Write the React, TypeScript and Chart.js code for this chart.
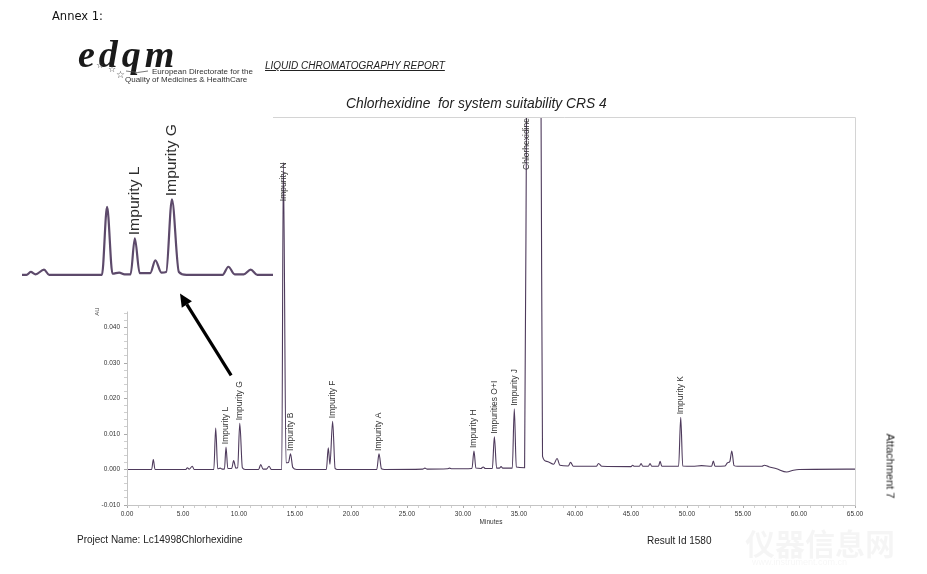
import React, { useEffect, useRef } from 'react';
import { Chart, registerables } from 'chart.js';

Chart.register(...registerables);

// ---- chromatogram trace (retention time in minutes, absorbance in AU) ----
const minutes = [
  0.0, 2.2, 2.35, 2.5, 5.25, 5.39, 5.55, 5.83, 6.0, 7.75, 7.92, 8.1, 8.32, 8.5, 8.7, 8.84, 9.0, 9.35, 9.52, 9.72,
  9.88, 10.07, 10.3, 10.55, 11.75, 11.94, 12.15, 12.45, 12.68, 12.9, 13.82, 13.96, 14.2, 14.42, 14.6, 14.8, 15.15,
  17.8, 17.97, 18.12, 18.36, 18.58, 18.8, 22.3, 22.5, 22.72, 23.0, 26.4, 26.6, 26.8, 28.6, 28.8, 29.0, 30.8, 30.98,
  31.15, 31.6, 31.8, 32.0, 32.62, 32.8, 33.0, 33.25, 33.4, 33.55, 34.4, 34.58, 34.76, 35.5, 35.7, 36.3, 36.97, 37.1,
  37.47, 38.1, 38.4, 38.65, 39.4, 39.6, 39.85, 41.9, 42.1, 42.4, 45.0, 45.15, 45.3, 45.75, 45.9, 46.05, 46.55, 46.7,
  46.85, 47.45, 47.6, 47.75, 49.25, 49.44, 49.62, 50.5, 51.3, 52.2, 52.35, 52.5, 53.4, 53.62, 53.82, 54.0, 54.2, 54.5,
  56.7, 56.9, 57.3, 58.0, 58.9, 59.5, 60.0, 65.0,
];
const absorbance = [
  0.0, 0.0, 0.0028, 0.0, 0.0, 0.0005, 0.0001, 0.0009, 0.0, 0.0, 0.0117, 0.0002, 0.0004, 0.0001, 0.0001, 0.0063, 0.0003,
  0.0003, 0.0025, 0.0004, 0.0005, 0.013, 0.0005, 0.0, 0.0, 0.0014, 0.0001, 0.0001, 0.0009, 0.0, 0.0, 0.0865, 0.0019,
  0.002, 0.0044, 0.0006, 0.0, 0.0, 0.0061, 0.0015, 0.0136, 0.0003, 0.0, 0.0, 0.0044, 0.0002, 0.0, 0.0001, 0.0004,
  0.0001, 0.0002, 0.0004, 0.0002, 0.0003, 0.0052, 0.0004, 0.0003, 0.0007, 0.0003, 0.0003, 0.0092, 0.0004, 0.0004,
  0.0008, 0.0004, 0.0004, 0.0171, 0.0007, 0.0005, 0.12, 0.3, 0.1, 0.0037, 0.0023, 0.0015, 0.0031, 0.0012, 0.001,
  0.002, 0.0009, 0.0009, 0.0017, 0.0009, 0.0008, 0.0012, 0.0009, 0.0009, 0.0017, 0.0009, 0.0009, 0.0017, 0.0009,
  0.0009, 0.0023, 0.0009, 0.0009, 0.0147, 0.001, 0.0009, 0.0011, 0.0009, 0.0024, 0.0009, 0.001, 0.0019, 0.0022,
  0.0052, 0.0011, 0.0009, 0.0009, 0.0012, 0.0008, 0.0002, -0.0007, -0.0002, 0.0, 0.0001,
];

// ---- peak annotations ----
const peakNames = [
  'Impurity L', 'Impurity G', 'Impurity N', 'Impurity B', 'Impurity F', 'Impurity A',
  'Impurity H', 'Impurities O+I', 'Impurity J', 'Chlorhexidine', 'Impurity K',
];
const peakMinutes = [8.84, 10.07, 13.96, 14.6, 18.36, 22.5, 30.98, 32.8, 34.58, 35.7, 49.44];
const insetNames = ['Impurity L', 'Impurity G'];
const insetMinutes = [8.84, 10.07];

// ---- axes ----
const xMajorTicks = [0, 5, 10, 15, 20, 25, 30, 35, 40, 45, 50, 55, 60, 65];
const yMajorTicks = [-0.01, 0, 0.01, 0.02, 0.03, 0.04];
const X_MIN = 0, X_MAX = 65;
const Y_MIN = -0.01, Y_MAX = 0.0993, Y_AXIS_TOP = 0.0445;
const INSET_X = [5.1, 13.42];
const INSET_Y = [-0.0026, 0.0287];

// arrow from the Impurity L/G region to the inset
const arrowFrom = { x: 9.3, y: 0.0265 };
const arrowTo = { x: 4.73, y: 0.0496 };

const FONT = '"Liberation Sans", Arial, Helvetica, sans-serif';
const TRACE = '#4e3a5c';

const points = minutes.map((m, i) => ({ x: m, y: absorbance[i] }));

function apexOf(t: number) {
  const i = minutes.indexOf(t);
  return i >= 0 ? absorbance[i] : 0;
}

function drawPeakLabels(chart: any, names: string[], times: number[], fontPx: number, stretch: number, gap: number, color: string, topMargin: number) {
  const { ctx, chartArea, scales } = chart;
  const x = scales.x, y = scales.y;
  ctx.save();
  ctx.font = `${fontPx}px ${FONT}`;
  ctx.fillStyle = color;
  ctx.textBaseline = 'middle';
  names.forEach((name, i) => {
    const t = times[i];
    const px = x.getPixelForValue(t);
    const apex = y.getPixelForValue(apexOf(t));
    const len = ctx.measureText(name).width * stretch;
    ctx.save();
    if (apex - gap - len >= chartArea.top + topMargin) {
      ctx.translate(px, apex - gap);
      ctx.rotate(-Math.PI / 2);
      ctx.scale(stretch, 1);
      ctx.textAlign = 'left';
    } else {
      ctx.translate(px, Math.max(apex, chartArea.top + 1));
      ctx.rotate(-Math.PI / 2);
      ctx.scale(stretch, 1);
      ctx.textAlign = 'right';
    }
    ctx.fillText(name, 0, 0);
    ctx.restore();
  });
  ctx.restore();
}

const mainOverlay = {
  id: 'mainOverlay',
  afterDraw(chart: any) {
    const { ctx, chartArea, scales } = chart;
    const x = scales.x, y = scales.y;
    ctx.save();
    // frame (top & right), partially hidden behind the inset
    ctx.strokeStyle = '#d4d4d4';
    ctx.lineWidth = 1;
    ctx.beginPath();
    ctx.moveTo(273, Math.round(chartArea.top) + 0.5);
    ctx.lineTo(Math.round(chartArea.right) + 0.5, Math.round(chartArea.top) + 0.5);
    ctx.lineTo(Math.round(chartArea.right) + 0.5, Math.round(chartArea.bottom) + 0.5);
    ctx.stroke();
    // y axis line
    ctx.strokeStyle = '#c4c4c4';
    ctx.beginPath();
    const ax = Math.round(chartArea.left) + 0.5;
    ctx.moveTo(ax, y.getPixelForValue(Y_MIN));
    ctx.lineTo(ax, y.getPixelForValue(Y_AXIS_TOP));
    ctx.stroke();
    // y axis title
    ctx.fillStyle = '#444';
    ctx.font = `6px ${FONT}`;
    ctx.translate(chartArea.left - 30, y.getPixelForValue(Y_AXIS_TOP));
    ctx.rotate(-Math.PI / 2);
    ctx.textAlign = 'center';
    ctx.textBaseline = 'middle';
    ctx.fillText('AU', 0, 0);
    ctx.restore();

    drawPeakLabels(chart, peakNames, peakMinutes, 8.5, 1, 3, '#333', 10);

    // arrow
    const fx = x.getPixelForValue(arrowFrom.x), fy = y.getPixelForValue(arrowFrom.y);
    const tx = x.getPixelForValue(arrowTo.x), ty = y.getPixelForValue(arrowTo.y);
    const ang = Math.atan2(ty - fy, tx - fx);
    const head = 13, hw = 6;
    const bx = tx - head * Math.cos(ang), by = ty - head * Math.sin(ang);
    ctx.save();
    ctx.strokeStyle = '#000';
    ctx.fillStyle = '#000';
    ctx.lineWidth = 3.2;
    ctx.beginPath();
    ctx.moveTo(fx, fy);
    ctx.lineTo(bx, by);
    ctx.stroke();
    ctx.beginPath();
    ctx.moveTo(tx, ty);
    ctx.lineTo(bx + hw * Math.sin(ang), by - hw * Math.cos(ang));
    ctx.lineTo(bx - hw * Math.sin(ang), by + hw * Math.cos(ang));
    ctx.closePath();
    ctx.fill();
    ctx.restore();
  },
};

const insetOverlay = {
  id: 'insetOverlay',
  afterDraw(chart: any) {
    drawPeakLabels(chart, insetNames, insetMinutes, 14, 1.12, 3, '#2e2e2e', 0);
  },
};

const isMajor = (v: number, step: number) => Math.abs(v / step - Math.round(v / step)) < 1e-6;

export default function App() {
  const mainRef = useRef<HTMLCanvasElement>(null);
  const insetRef = useRef<HTMLCanvasElement>(null);

  useEffect(() => {
    const xTicks: number[] = [];
    for (let v = X_MIN; v <= X_MAX; v += 1) xTicks.push(v);
    const yTicks: number[] = [];
    for (let k = -5; k <= 22; k++) yTicks.push(Math.round(k * 0.002 * 1e6) / 1e6);

    const main = new Chart(mainRef.current as HTMLCanvasElement, {
      type: 'line',
      data: {
        datasets: [{
          data: points,
          borderColor: TRACE,
          borderWidth: 1.1,
          pointRadius: 0,
          fill: false,
          cubicInterpolationMode: 'monotone',
        }],
      },
      options: {
        animation: false,
        responsive: false,
        maintainAspectRatio: false,
        events: [],
        layout: { padding: { left: 60, top: 117, right: 72, bottom: 20 } },
        plugins: { legend: { display: false }, tooltip: { enabled: false }, title: { display: false } },
        scales: {
          x: {
            type: 'linear',
            min: X_MIN,
            max: X_MAX,
            afterBuildTicks: (s: any) => { s.ticks = xTicks.map((v) => ({ value: v })); },
            afterFit: (s: any) => { s.height = 574 - 20 - 505; },
            ticks: {
              autoSkip: false,
              maxRotation: 0,
              padding: 2,
              color: '#333',
              font: { family: FONT, size: 6.5 },
              callback: (v: any) => (xMajorTicks.includes(Number(v)) ? Number(v).toFixed(2) : ''),
            },
            grid: {
              drawOnChartArea: false,
              drawTicks: true,
              tickLength: 3,
              color: (c: any) => (c.tick && xMajorTicks.includes(c.tick.value) ? '#aaa' : '#cfcfcf'),
            },
            border: { display: true, color: '#c4c4c4' },
            title: {
              display: true,
              text: 'Minutes',
              color: '#333',
              font: { family: FONT, size: 6.5 },
              padding: { top: 0, bottom: 28 },
            },
          },
          y: {
            type: 'linear',
            min: Y_MIN,
            max: Y_MAX,
            afterBuildTicks: (s: any) => { s.ticks = yTicks.map((v) => ({ value: v })); },
            afterFit: (s: any) => { s.width = 127 - 60; },
            ticks: {
              autoSkip: false,
              padding: 4,
              color: '#333',
              font: { family: FONT, size: 6.5 },
              callback: (v: any) => (yMajorTicks.some((m) => Math.abs(m - Number(v)) < 1e-7) ? Number(v).toFixed(3) : ''),
            },
            grid: {
              drawOnChartArea: false,
              drawTicks: true,
              tickLength: 3,
              color: (c: any) => (c.tick && isMajor(c.tick.value, 0.01) ? '#aaa' : '#cfcfcf'),
            },
            border: { display: false },
          },
        },
      },
      plugins: [mainOverlay],
    });

    const inset = new Chart(insetRef.current as HTMLCanvasElement, {
      type: 'line',
      data: {
        datasets: [{
          data: points,
          borderColor: '#5d4a6b',
          borderWidth: 2.2,
          pointRadius: 0,
          fill: false,
          cubicInterpolationMode: 'monotone',
        }],
      },
      options: {
        animation: false,
        responsive: false,
        maintainAspectRatio: false,
        events: [],
        layout: { padding: 0 },
        plugins: { legend: { display: false }, tooltip: { enabled: false } },
        scales: {
          x: { type: 'linear', min: INSET_X[0], max: INSET_X[1], display: false },
          y: { type: 'linear', min: INSET_Y[0], max: INSET_Y[1], display: false },
        },
      },
      plugins: [insetOverlay],
    });

    return () => {
      main.destroy();
      inset.destroy();
    };
  }, []);

  const abs = (extra: React.CSSProperties): React.CSSProperties => ({
    position: 'absolute',
    lineHeight: 1,
    whiteSpace: 'pre',
    margin: 0,
    ...extra,
  });

  const star = '"DejaVu Sans", sans-serif';

  return (
    <div style={{ position: 'absolute', left: 0, top: 0, width: 927, height: 574, background: '#fff', overflow: 'hidden', fontFamily: FONT, color: '#222' }}>
      <canvas ref={mainRef} width={927} height={574} style={{ position: 'absolute', left: 0, top: 0, width: 927, height: 574 }} />
      <canvas ref={insetRef} width={251} height={182} style={{ position: 'absolute', left: 22, top: 108, width: 251, height: 182 }} />

      <div style={abs({ left: 52, top: 11, fontSize: 11.5, fontFamily: '"DejaVu Sans", Verdana, sans-serif', color: '#111' })}>Annex 1:</div>

      {/* EDQM logo */}
      <div style={abs({ left: 78, top: 35, fontSize: 38, fontFamily: '"Liberation Serif", "DejaVu Serif", serif', fontStyle: 'italic', fontWeight: 'bold', letterSpacing: 4, color: '#1a1a1a' })}>edqm</div>
      <svg width={80} height={20} style={{ position: 'absolute', left: 88, top: 62 }}>
        <path d="M 38 9 Q 50 12 60 9" stroke="#555" strokeWidth={0.8} fill="none" />
      </svg>
      <div style={abs({ left: 96, top: 61, fontSize: 9, fontFamily: star, color: '#444' })}>☆</div>
      <div style={abs({ left: 108, top: 65, fontSize: 9, fontFamily: star, color: '#444' })}>☆</div>
      <div style={abs({ left: 116, top: 70, fontSize: 10, fontFamily: star, color: '#444' })}>☆</div>
      <div style={abs({ left: 152, top: 68, fontSize: 8, color: '#333' })}>European Directorate for the</div>
      <div style={abs({ left: 125, top: 76, fontSize: 8, color: '#333' })}>Quality of Medicines &amp; HealthCare</div>

      <div style={abs({ left: 265, top: 61, fontSize: 10, fontStyle: 'italic', textDecoration: 'underline', color: '#222' })}>LIQUID CHROMATOGRAPHY REPORT</div>

      <div style={abs({ left: 346, top: 97, fontSize: 13.8, fontStyle: 'italic', color: '#222' })}>Chlorhexidine  for system suitability CRS 4</div>

      <div style={abs({ left: 77, top: 535, fontSize: 10, color: '#222' })}>Project Name: Lc14998Chlorhexidine</div>
      <div style={abs({ left: 647, top: 536, fontSize: 10, color: '#222' })}>Result Id 1580</div>

      <div style={abs({ left: 890, top: 466, fontSize: 11, color: '#222', transform: 'translate(-50%, -50%) rotate(90deg)' })}>Attachment 7</div>

      {/* faint watermark */}
      <div style={abs({ left: 745, top: 527, fontSize: 30, fontFamily: '"Noto Sans CJK SC", sans-serif', fontWeight: 'bold', color: 'rgba(0,0,0,0.04)' })}>仪器信息网</div>
      <div style={abs({ left: 752, top: 558, fontSize: 9, color: 'rgba(0,0,0,0.04)' })}>www.instrument.com.cn</div>
    </div>
  );
}
